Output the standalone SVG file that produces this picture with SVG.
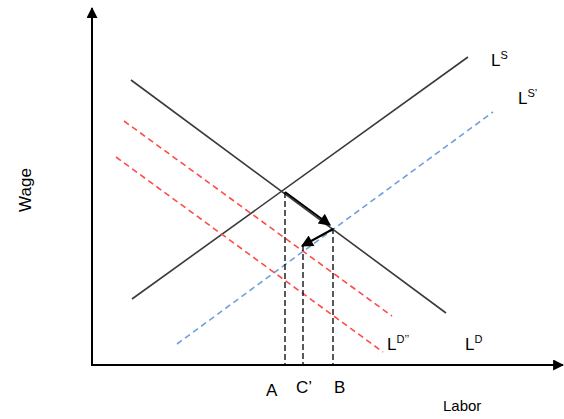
<svg xmlns="http://www.w3.org/2000/svg" width="564" height="419" viewBox="0 0 564 419">
<style>
.ax{stroke:#000;stroke-width:2;fill:none}
.solid{stroke:#3a3a3a;stroke-width:1.6;fill:none}
.red{stroke:#ff4a4a;stroke-width:1.6;stroke-dasharray:6,4;fill:none}
.blue{stroke:#6fa0dc;stroke-width:1.6;stroke-dasharray:6,4;fill:none}
.vd{stroke:#000;stroke-width:1.3;stroke-dasharray:6,3;fill:none}
.arr{stroke:#000;stroke-width:2;fill:none}
text{font-family:"Liberation Sans",Arial,sans-serif;fill:#000}
.lb{font-size:17px}
.sup{font-size:11px}
.sm{font-size:15px}
</style>
<defs>
<marker id="ah" viewBox="0 0 10 10" refX="9" refY="5" markerWidth="7" markerHeight="6" orient="auto" markerUnits="strokeWidth"><path d="M0,0 L10,5 L0,10 z" fill="#000"/></marker>
<marker id="axh" viewBox="0 0 10 10" refX="9" refY="5" markerWidth="14" markerHeight="11" orient="auto" markerUnits="userSpaceOnUse"><path d="M0,0 L10,5 L0,10 z" fill="#000"/></marker>
</defs>
<g id="axes">
<line class="ax" x1="92" y1="366" x2="92" y2="8" marker-end="url(#axh)"/>
<line class="ax" x1="91" y1="365" x2="563" y2="365" marker-end="url(#axh)"/>
</g>
<g id="connectors">
<line id="LS" class="solid" x1="132" y1="299" x2="468" y2="57"/>
<line id="LD" class="solid" x1="131" y1="80" x2="446" y2="313"/>
<line id="LSp" class="blue" x1="177" y1="344" x2="493" y2="112"/>
<line id="LDa" class="red" x1="124" y1="121" x2="392" y2="316"/>
<line id="LDb" class="red" x1="116" y1="157" x2="383" y2="352"/>
<line class="vd" x1="285" y1="192" x2="285" y2="364"/>
<line class="vd" x1="303" y1="245" x2="303" y2="364"/>
<line class="vd" x1="333" y1="228" x2="333" y2="364"/>
<line class="arr" x1="285" y1="192" x2="330" y2="225" marker-end="url(#ah)"/>
<line class="arr" x1="333" y1="229" x2="302" y2="246" marker-end="url(#ah)"/>
</g>
<g id="labels">
<text class="lb" x="491" y="66">L<tspan class="sup" dy="-7">S</tspan></text>
<text class="lb" x="518" y="104">L<tspan class="sup" dy="-7">S’</tspan></text>
<text class="lb" x="387" y="350">L<tspan class="sup" dy="-7">D’’</tspan></text>
<text class="lb" x="465" y="350">L<tspan class="sup" dy="-7">D</tspan></text>
<text class="lb" x="266" y="396">A</text>
<text class="lb" x="296" y="393">C’</text>
<text class="lb" x="334" y="393">B</text>
<text class="sm" x="443" y="411">Labor</text>
<text class="lb" transform="translate(31,190) rotate(-90)" text-anchor="middle">Wage</text>
</g>
</svg>
